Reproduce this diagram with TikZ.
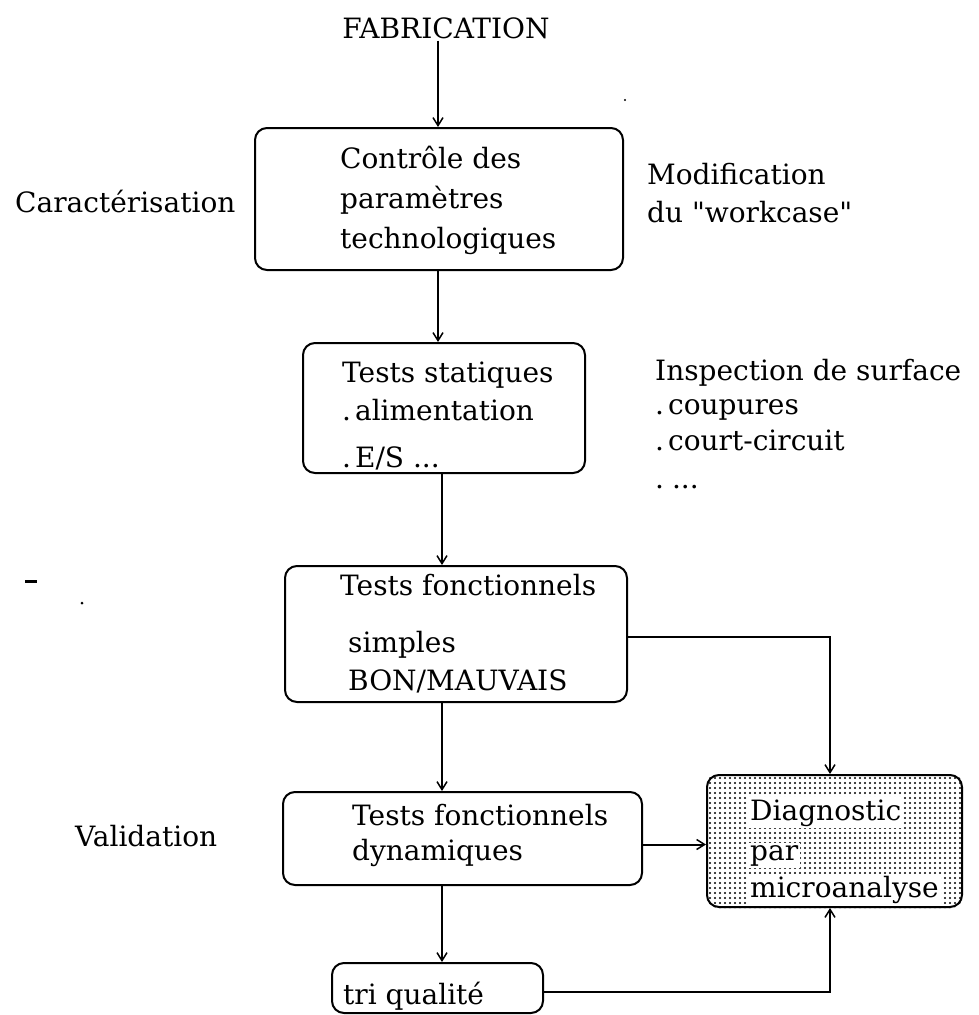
\documentclass[tikz,border=0pt]{standalone}
\usepackage{fontspec}
\setmainfont{DejaVu Serif}[Ligatures=TeXOff]
\usetikzlibrary{arrows.meta,backgrounds}
\begin{document}
\begin{tikzpicture}[x=1pt,y=-1pt,
  box/.style={draw, line width=2pt, rounded corners=12pt, inner sep=0pt},
  txt/.style={anchor=base west, inner sep=0pt, font=\fontsize{28}{32}\selectfont},
  wtxt/.style={txt, fill=white, inner sep=2pt},
  arr/.style={line width=2pt, -{Straight Barb[length=8pt,width=10pt,line width=1.5pt]}}]
\useasboundingbox (0,0) rectangle (978,1015);

% column coordinates
\coordinate (cA) at (438,0);
\coordinate (cB) at (442,0);
\coordinate (cD) at (830,0);

% title and side labels
\node[txt, anchor=base] (fab) at (446,38) {FABRICATION};
\node[txt] (cara) at (15,212) {Caractérisation};
\node[txt] (mod1) at (647,184) {Modification};
\node[txt] (mod2) at (647,222) {du "workcase"};
\node[txt] (insp1) at (655,380) {Inspection de surface};
\node[txt] (insp2) at (655,414) {.\kern4pt coupures};
\node[txt] (insp3) at (655,450) {.\kern4pt court-circuit};
\node[txt] (insp4) at (655,488) {.\kern8pt ...};
\node[txt] (valid) at (75,846) {Validation};

% boxes
\node[box, minimum width=368pt, minimum height=142pt] (b1) at (439,199) {};
\node[box, minimum width=282pt, minimum height=130pt] (b2) at (444,408) {};
\node[box, minimum width=342pt, minimum height=136pt] (b3) at (456,634) {};
\node[box, minimum width=359pt, minimum height=93pt] (b4) at (462.5,838.5) {};
\node[box, minimum width=255pt, minimum height=132pt] (diag) at (834.5,841) {};
\node[box, minimum width=211pt, minimum height=50pt] (tri) at (437.5,988) {};

% stippled fill of the diagnostic box
\begin{scope}[on background layer]
  \clip[rounded corners=12pt] (diag.north west) rectangle (diag.south east);
  \foreach \i in {0,...,52} {
    \foreach \j in {0,...,27} {
      \fill (705+\i*5, 773+\j*5) circle[radius=1.2pt];
    }
  }
\end{scope}

% box texts
\node[txt] (t1a) at (340,168) {Contrôle des};
\node[txt] (t1b) at (340,208) {paramètres};
\node[txt] (t1c) at (340,248) {technologiques};
\node[txt] (t2a) at (342,382) {Tests statiques};
\node[txt] (t2b) at (342,420) {.\kern4pt alimentation};
\node[txt] (t2c) at (342,467) {.\kern4pt E/S ...};
\node[txt] (t3a) at (340,595) {Tests fonctionnels};
\node[txt] (t3b) at (348,652) {simples};
\node[txt] (t3c) at (348,690) {BON/MAUVAIS};
\node[txt] (t4a) at (352,825) {Tests fonctionnels};
\node[txt] (t4b) at (352,860) {dynamiques};
\node[wtxt] (d1) at (748,820) {Diagnostic};
\node[wtxt] (d2) at (748,860) {par};
\node[wtxt] (d3) at (748,897) {microanalyse};
\node[txt] (t5) at (343,1004) {tri qualité};

% connectors
\draw[arr, shorten <=2pt] (cA |- fab.south) -- (cA |- b1.north);
\draw[arr] (cA |- b1.south) -- (cA |- b2.north);
\draw[arr] (cB |- b2.south) -- (cB |- b3.north);
\draw[arr] (cB |- b3.south) -- (cB |- b4.north);
\draw[arr] (cB |- b4.south) -- (cB |- tri.north);
\draw[arr] ([yshift=-3pt]b3.east) -- ([yshift=-3pt]b3.east -| cD) -- (cD |- diag.north);
\draw[arr] ([yshift=-6pt]b4.east) -- ([yshift=-6pt]b4.east -| diag.west);
\draw[arr] ([yshift=-4pt]tri.east) -- ([yshift=-4pt]tri.east -| cD) -- (cD |- diag.south);

% stray marks of the scan
\fill (25,580) rectangle (37,583);
\fill (82,603) circle[radius=1.5pt];
\fill (625,100) circle[radius=1.2pt];
\end{tikzpicture}
\end{document}
